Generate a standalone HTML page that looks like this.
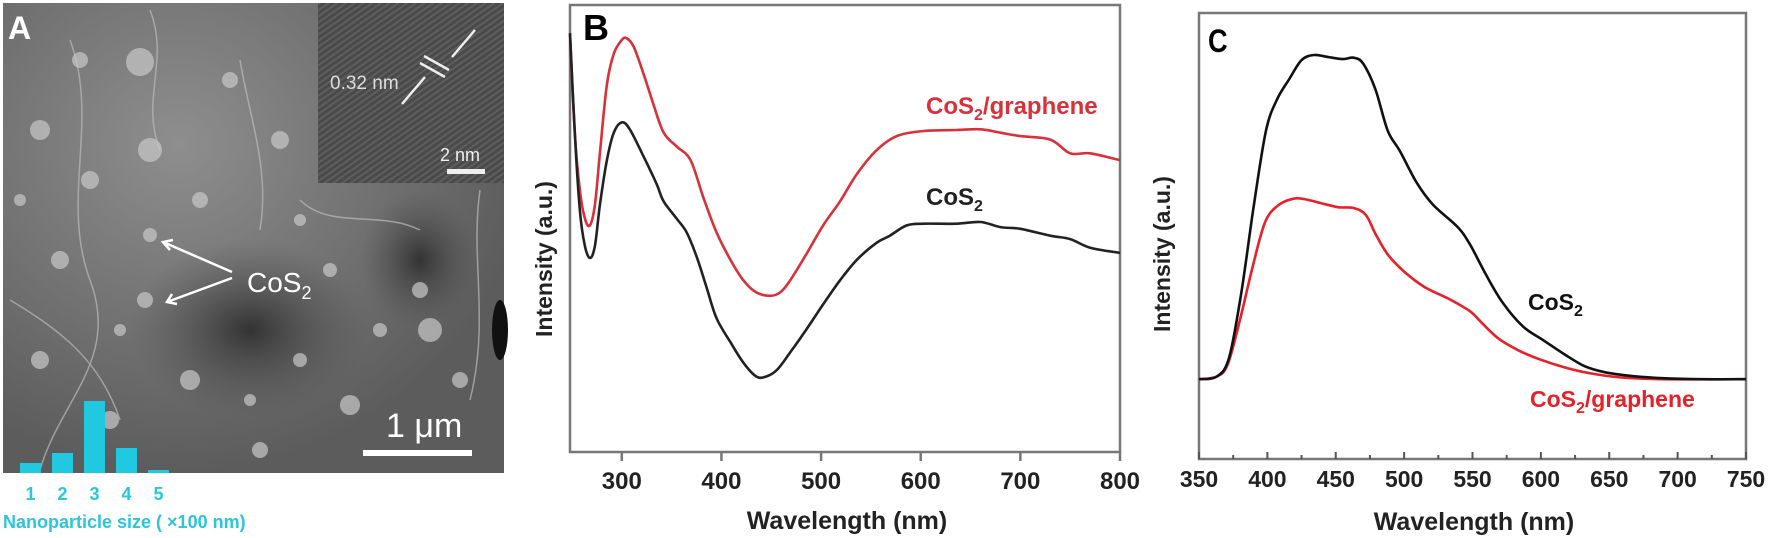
<!DOCTYPE html>
<html><head><meta charset="utf-8"><style>
html,body{margin:0;padding:0;background:#fff;}
svg{display:block;font-family:"Liberation Sans",Arial,sans-serif;}
</style></head><body>
<svg id="fig" width="1772" height="538" viewBox="0 0 1772 538">
<defs>
<radialGradient id="g1" cx="0.35" cy="0.3" r="0.7"><stop offset="0" stop-color="#8e8e8e"/><stop offset="1" stop-color="#5c5c5c"/></radialGradient>
<radialGradient id="g2" cx="0.5" cy="0.5" r="0.5"><stop offset="0" stop-color="#333"/><stop offset="1" stop-color="#555" stop-opacity="0"/></radialGradient>
<pattern id="stripes" width="5" height="5" patternUnits="userSpaceOnUse" patternTransform="rotate(-35)"><rect width="5" height="5" fill="#4a4a4a"/><rect width="5" height="2" fill="#5e5e5e"/></pattern>
</defs>
<!-- Panel A -->
<g>
<rect x="3" y="3" width="501" height="470" fill="url(#g1)"/>
<ellipse cx="250" cy="330" rx="120" ry="90" fill="url(#g2)"/>
<ellipse cx="420" cy="260" rx="60" ry="70" fill="url(#g2)"/>
<ellipse cx="500" cy="330" rx="8" ry="30" fill="#111"/>
<g stroke="#bbb" stroke-width="1.5" fill="none" opacity="0.7">
<path d="M70,40 C100,120 60,200 90,280 S60,400 40,470"/>
<path d="M150,10 C170,60 140,100 160,150"/>
<path d="M240,60 C250,120 270,170 260,230"/>
<path d="M480,190 C470,260 490,320 470,400"/>
<path d="M300,200 C330,230 380,210 420,230"/>
<path d="M10,300 C60,330 100,360 120,420"/>
</g>
<g id="blobs" fill="#c8c8c8" opacity="0.7"></g>
<rect x="318" y="3" width="186" height="180" fill="url(#stripes)"/>
<text x="330" y="89" font-size="19" fill="#ddd">0.32 nm</text>
<g stroke="#eee" stroke-width="2.5" fill="none">
<line x1="420" y1="63" x2="445" y2="77"/><line x1="424" y1="56" x2="449" y2="70"/>
<line x1="475" y1="30" x2="452" y2="57"/><line x1="402" y1="104" x2="425" y2="77"/>
</g>
<text x="440" y="161" font-size="18" fill="#eee">2 nm</text>
<rect x="447" y="169" width="38" height="5" fill="#eee"/>
<text x="386" y="437" font-size="34" fill="#fff">1 μm</text>
<rect x="363" y="450" width="109" height="6" fill="#fff"/>
<g stroke="#fff" stroke-width="2.5" fill="none">
<line x1="232" y1="272" x2="163" y2="242"/><polyline points="173,240 163,242 170,250"/>
<line x1="232" y1="278" x2="167" y2="302"/><polyline points="172,294 167,302 177,304"/>
</g>
<text x="247" y="292" font-size="28" fill="#fff">CoS<tspan font-size="18" dy="7">2</tspan></text>
<text x="8" y="39" font-size="32" font-weight="bold" fill="#fff">A</text>
<g id="hist"></g>
<text x="3" y="528" font-size="18" font-weight="bold" fill="#29c6dd">Nanoparticle size ( ×100 nm)</text>
</g>
<!-- Panel B -->
<g>
<rect x="570" y="5" width="550" height="447" fill="none" stroke="#777" stroke-width="2.5"/>
<g id="bTicks"></g>
<path id="bRed" fill="none" stroke="#d9303a" stroke-width="2.6"/>
<path id="bBlack" fill="none" stroke="#222" stroke-width="2.6"/>
<text x="583" y="40" font-size="36" font-weight="bold" fill="#000">B</text>
<text x="926" y="114" font-size="24" font-weight="bold" fill="#d9303a">CoS<tspan font-size="16" dy="6">2</tspan><tspan dy="-6">/graphene</tspan></text>
<text x="926" y="205" font-size="24" font-weight="bold" fill="#222">CoS<tspan font-size="16" dy="6">2</tspan></text>
<text transform="translate(552,259) rotate(-90)" text-anchor="middle" font-size="23" font-weight="bold" fill="#222">Intensity (a.u.)</text>
<text x="847" y="529" text-anchor="middle" font-size="25" font-weight="bold" fill="#222">Wavelength (nm)</text>
</g>
<!-- Panel C -->
<g>
<rect x="1199" y="13" width="547" height="446" fill="none" stroke="#777" stroke-width="2.5"/>
<g id="cTicks"></g>
<path id="cRed" fill="none" stroke="#e8202a" stroke-width="2.6"/>
<path id="cBlack" fill="none" stroke="#111" stroke-width="2.6"/>
<text x="1208" y="52" font-size="32" font-weight="bold" fill="#000" transform="translate(1208,0) scale(0.85,1) translate(-1208,0)">C</text>
<text x="1528" y="310" font-size="23" font-weight="bold" fill="#111">CoS<tspan font-size="16" dy="6">2</tspan></text>
<text x="1530" y="407" font-size="23" font-weight="bold" fill="#e8202a">CoS<tspan font-size="16" dy="6">2</tspan><tspan dy="-6">/graphene</tspan></text>
<text transform="translate(1170,254) rotate(-90)" text-anchor="middle" font-size="23" font-weight="bold" fill="#222">Intensity (a.u.)</text>
<text x="1474" y="530" text-anchor="middle" font-size="25" font-weight="bold" fill="#222">Wavelength (nm)</text>
</g>
</svg>
<script>
// Histogram (panel A)
const histCats = [1, 2, 3, 4, 5];
const histCounts = [10, 20, 72, 25, 3];
// Panel B data
const bTickLabels = [300, 400, 500, 600, 700, 800];
const bBlackNm = [248,253,258,263,268,273,278,285,292,300,308,322,335,342,355,365,375,385,395,409,422,435,445,456,469,486,502,519,536,556,569,586,603,636,660,680,700,730,750,770,800];
const bBlackVal = [122,92,70,60,56.5,60,72,85,93,96,94,86,78,73,68,64,57,48,39,32,26,22,22,24,29,36,43,50,56,61,63,66,66.5,66.5,67,65.5,65,63,62,59.5,58];
const bRedNm = [248,253,258,263,268,273,278,285,292,300,305,312,322,332,342,355,369,382,395,409,422,435,449,459,469,486,502,519,536,556,576,603,636,660,680,700,730,750,770,800];
const bRedVal = [122,92,76,68,66,72,87,107,116,120,120.5,118,110,101,93,89,85,74,64,56,50,46.5,45.5,46.5,50,58,66,73,81,88,92,93.5,93.8,94,93,92,91,87,87,85];
// Panel C data
const cTickLabels = [350,400,450,500,550,600,650,700,750];
const cBlackNm = [350,363,372,381,390,399,407,416,425,434,443,455,463,470,479,488,497,509,521,539,548,560,572,587,602,617,632,647,665,689,719,750];
const cBlackVal = [0,0.8,6.3,25.3,50.3,72.3,81.3,87.3,92.8,94.3,93.8,93.1,93.5,91.8,84.3,72.3,66.3,57.3,50.8,44.3,39.3,30.3,22.3,15.3,11.3,7.3,3.8,2,1,0.3,0,0];
const cRedNm = [350,363,371,380,389,398,407,419,428,440,452,463,472,479,488,500,515,533,548,557,569,584,599,617,635,659,689,750];
const cRedVal = [0,0.8,4.3,17.3,32.3,45.3,50.3,52.5,52.3,51.1,50,49.8,47.8,42.3,36.3,31.3,26.8,23.3,19.8,16.3,11.8,8.3,5.8,3.5,1.8,0.5,0,0];

const NS = "http://www.w3.org/2000/svg";
function mk(tag, attrs, parent){const e=document.createElementNS(NS,tag);for(const k in attrs)e.setAttribute(k,attrs[k]);parent.appendChild(e);return e;}
function smooth(pts){let d="M"+pts[0][0].toFixed(1)+","+pts[0][1].toFixed(1);for(let i=0;i<pts.length-1;i++){const p0=pts[Math.max(0,i-1)],p1=pts[i],p2=pts[i+1],p3=pts[Math.min(pts.length-1,i+2)];const c1x=p1[0]+(p2[0]-p0[0])/6,c1y=p1[1]+(p2[1]-p0[1])/6,c2x=p2[0]-(p3[0]-p1[0])/6,c2y=p2[1]-(p3[1]-p1[1])/6;d+=" C"+c1x.toFixed(1)+","+c1y.toFixed(1)+" "+c2x.toFixed(1)+","+c2y.toFixed(1)+" "+p2[0].toFixed(1)+","+p2[1].toFixed(1);}return d;}

// SEM texture blobs (decorative)
const blobs=document.getElementById('blobs');
[[140,62,14],[230,80,8],[40,130,10],[90,180,9],[150,150,12],[200,200,8],[60,260,9],[150,235,7],[145,300,8],[300,220,6],[330,270,7],[420,290,8],[430,330,12],[300,360,7],[190,380,10],[40,360,9],[110,420,9],[250,400,6],[350,405,10],[460,380,8],[80,60,8],[280,140,9],[20,200,6],[120,330,6],[380,330,7],[260,450,8]].forEach(b=>{mk('circle',{cx:b[0],cy:b[1],r:b[2]},blobs);});

// Histogram
const hist=document.getElementById('hist');
const hBase=473, hScale=1.0, hX=c=>20+(c-1)*32;
histCats.forEach((c,i)=>{
 const r=mk('rect',{x:hX(c),y:hBase-histCounts[i]*hScale,width:21,height:histCounts[i]*hScale,fill:'#22c7e0'},hist);
 
 
 const t=mk('text',{x:hX(c)+10.5,y:500,'text-anchor':'middle','font-size':18,'font-weight':'bold',fill:'#29c6dd'},hist);
 t.textContent=c;
 
 
});

// Panel B axes
const bx=nm=>570+(nm-248)*(550/552), by=v=>452-v*(447/130.2);
const bT=document.getElementById('bTicks');
bTickLabels.forEach(v=>{
 mk('line',{x1:bx(v),x2:bx(v),y1:452,y2:461,stroke:'#777','stroke-width':2.5},bT);
 const t=mk('text',{x:bx(v),y:489,'text-anchor':'middle','font-size':24,'font-weight':'bold',fill:'#222'},bT);
 t.textContent=v;
 
 
});
document.getElementById('bRed').setAttribute('d',smooth(bRedNm.map((n,i)=>[bx(n),by(bRedVal[i])])));
document.getElementById('bBlack').setAttribute('d',smooth(bBlackNm.map((n,i)=>[bx(n),by(bBlackVal[i])])));

// Panel C axes
const cx=nm=>1199+(nm-350)*(547/400), cy=v=>459-(v+23.2)*(446/129.7);
const cT=document.getElementById('cTicks');
for(let v=350;v<=750;v+=25){const major=(v%50===0);mk('line',{x1:cx(v),x2:cx(v),y1:459,y2:major?452:455,stroke:'#555','stroke-width':2},cT);}
cTickLabels.forEach(v=>{
 const t=mk('text',{x:cx(v),y:487,'text-anchor':'middle','font-size':23,'font-weight':'bold',fill:'#222'},cT);
 t.textContent=v;
 
 
});
document.getElementById('cRed').setAttribute('d',smooth(cRedNm.map((n,i)=>[cx(n),cy(cRedVal[i])])));
document.getElementById('cBlack').setAttribute('d',smooth(cBlackNm.map((n,i)=>[cx(n),cy(cBlackVal[i])])));
</script>
</body></html>
